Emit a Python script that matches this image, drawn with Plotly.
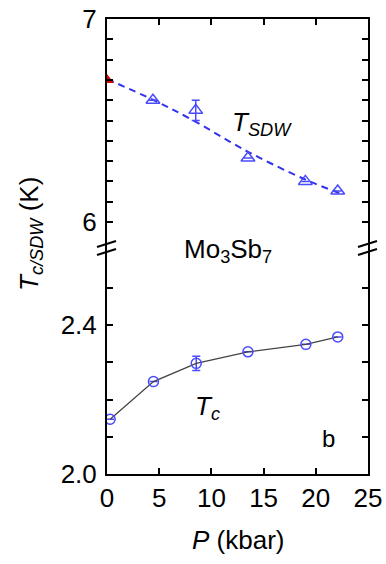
import plotly.graph_objects as go

# ---- data ----
P_sdw = [4.4, 8.5, 13.5, 19.0, 22.1]
T_sdw = [6.60, 6.55, 6.315, 6.20, 6.153]
T_sdw_err = [0, 0.05, 0, 0, 0]
P_sdw0 = [0.0]
T_sdw0 = [6.70]
P_fit = [0.0, 4.45, 8.2, 13.5, 19.1, 22.6]
T_fit = [6.704, 6.601, 6.502, 6.346, 6.207, 6.136]

P_c = [0.3, 4.45, 8.55, 13.5, 19.05, 22.1]
T_c = [2.147, 2.248, 2.297, 2.328, 2.348, 2.368]
T_c_err = [0, 0, 0.019, 0, 0, 0]

x_ticks = [0, 5, 10, 15, 20, 25]
y_up_ticks = [6.0, 6.1, 6.2, 6.3, 6.4, 6.5, 6.6, 6.7, 6.8, 6.9, 7.0]
y_up_text = ["6", "", "", "", "", "", "", "", "", "", "7"]
y_lo_ticks = [2.0, 2.1, 2.2, 2.3, 2.4, 2.5]
y_lo_text = ["2.0", "", "", "", "2.4", ""]

BLUE = "#4a4aff"
FONT = "Liberation Sans, Arial, sans-serif"
FS = 26

fig = go.Figure()

# upper panel (T_SDW)
fig.add_trace(go.Scatter(x=P_fit, y=T_fit, mode="lines", xaxis="x2", yaxis="y2",
                         line=dict(color="#3333ee", width=2, dash="7px,5px", shape="spline"),
                         hoverinfo="skip"))
fig.add_trace(go.Scatter(x=P_sdw, y=T_sdw, mode="markers", xaxis="x2", yaxis="y2",
                         marker=dict(symbol="triangle-up-open", size=12, color=BLUE,
                                     line=dict(width=1.5, color=BLUE)),
                         error_y=dict(type="data", array=T_sdw_err, color=BLUE, thickness=1.5, width=4)))
fig.add_trace(go.Scatter(x=P_sdw0, y=T_sdw0, mode="markers", xaxis="x2", yaxis="y2",
                         marker=dict(symbol="triangle-up", size=12, color="#e00000")))

# lower panel (Tc)
fig.add_trace(go.Scatter(x=P_c, y=T_c, mode="lines+markers", xaxis="x", yaxis="y",
                         line=dict(color="#444444", width=1.3),
                         marker=dict(symbol="circle-open", size=10, color=BLUE,
                                     line=dict(width=1.5, color=BLUE)),
                         error_y=dict(type="data", array=T_c_err, color=BLUE, thickness=1.5, width=4)))

L, R, T, B = 107, 18, 19, 90
W, H = 386, 564
pw, ph = W - L - R, H - T - B
ybreak = 249
split = (H - B - ybreak) / ph

axis_common = dict(showline=True, linecolor="black", linewidth=2, ticks="inside",
                   ticklen=6, tickwidth=2, tickcolor="black", showgrid=False, zeroline=False,
                   automargin=False,
                   tickfont=dict(family=FONT, size=FS, color="black"))

fig.update_layout(
    width=W, height=H, margin=dict(l=L, r=R, t=T, b=B, autoexpand=False),
    paper_bgcolor="white", plot_bgcolor="white", showlegend=False,
    font=dict(family=FONT, size=FS, color="black"),
    xaxis=dict(axis_common, range=[0, 25], tickvals=x_ticks, anchor="y", domain=[0, 1]),
    xaxis2=dict(axis_common, range=[0, 25], tickvals=[5, 10, 15, 20], anchor="y2", side="top",
                showticklabels=False, matches="x", domain=[0, 1]),
    yaxis=dict(axis_common, range=[2.0, 2.0 + (H - B - ybreak) / 372.5], tickvals=y_lo_ticks,
               ticktext=y_lo_text, domain=[0, split], anchor="x", mirror="ticks",
               ticklabelstandoff=3),
    yaxis2=dict(axis_common, range=[7 - (ybreak - T) / 203.0, 7.0], tickvals=y_up_ticks,
                ticktext=y_up_text, domain=[split, 1], anchor="x2", mirror="ticks",
                ticklabelstandoff=3),
)

def px(xp):
    return (xp - L) / pw

def py(yp):
    return (H - B - yp) / ph

# break marks
for xa, xb in [(97, 116), (358, 377)]:
    for y0 in (247, 255):
        fig.add_shape(type="line", xref="paper", yref="paper",
                      x0=px(xa), y0=py(y0), x1=px(xb), y1=py(y0 - 6),
                      line=dict(color="black", width=2))

def note(text, x, y, size=FS, angle=0):
    fig.add_annotation(text=text, xref="paper", yref="paper", x=px(x), y=py(y),
                       xanchor="center", yanchor="middle", textangle=angle,
                       showarrow=False, font=dict(family=FONT, size=size, color="black"))

# axis titles
note("<i>T</i><sub><i>c/SDW</i></sub> (K)", 30, 234, angle=-90)
note("<i>P</i> (kbar)", 238, 540)

note("<i>T</i><sub><i>SDW</i></sub>", 262, 124)
note("Mo<sub>3</sub>Sb<sub>7</sub>", 228, 250)
note("<i>T</i><sub><i>c</i></sub>", 207, 407)
note("b", 328, 438, size=FS - 2)

fig.write_html("out.html", config={"displayModeBar": False},
               post_script="document.body.style.margin='0';document.body.style.padding='0';")
